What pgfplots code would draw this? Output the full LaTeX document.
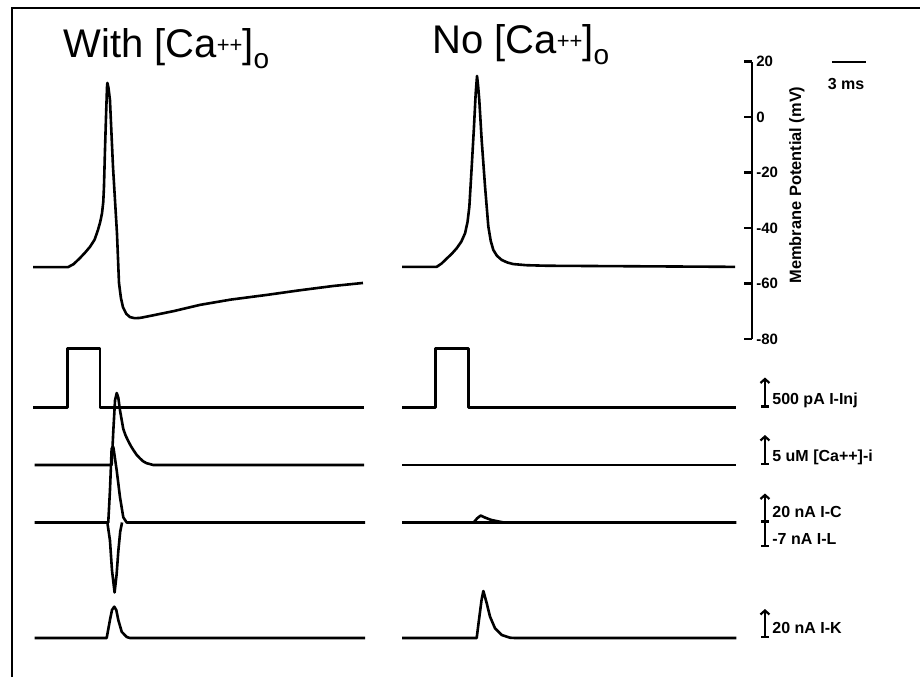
\documentclass[border=0pt]{standalone}
\usepackage{fontspec}
\setmainfont{Liberation Sans}
\usepackage{pgfplots}
\pgfplotsset{compat=1.18}
\usetikzlibrary{arrows.meta}

\newcommand{\titlefont}{\fontsize{20}{22}\selectfont}
\newcommand{\lblfont}{\fontsize{8}{9.6}\selectfont\bfseries}
\newcommand{\tickfont}{\fontsize{7.5}{9}\selectfont\bfseries}
\newcommand{\ylabfont}{\fontsize{8.2}{9.8}\selectfont\bfseries}
\newcommand{\plusplus}{\raisebox{2.5pt}{\fontsize{11}{11}\selectfont ++}}
\newcommand{\subo}{\raisebox{-5.5pt}{\fontsize{14}{14}\selectfont o}}

\tikzset{
  tr/.style={black, line width=1.3pt, line join=round, mark=none},
  sbar/.style={black, line width=1.1pt,
    arrows={Bar[width=4pt,line width=1.1pt]-Straight Barb[length=2pt,width=4.5pt,line width=1.1pt]}},
  sbarL/.style={black, line width=1.1pt, arrows={-Bar[width=4pt,line width=1.1pt]}},
  slabel/.style={anchor=base west, inner sep=0pt, font=\lblfont},
}
\pgfplotsset{
  trace/.style={hide axis, clip=false, anchor=south west,
    x=5.65pt, xmin=0, xmax=29.6, enlargelimits=false},
}

\begin{document}
\begin{tikzpicture}
\useasboundingbox (0,0) rectangle (460pt,338.5pt);
% figure frame
\draw[line width=1.2pt] (6pt,0pt) -- (6pt,334.5pt) -- (460pt,334.5pt);

% column headings
\node[anchor=base west, inner sep=0pt, font=\titlefont] at (31.5pt,310pt) {With [Ca\plusplus]\subo};
\node[anchor=base west, inner sep=0pt, font=\titlefont] at (216pt,312pt) {No [Ca\plusplus]\subo};

% ---------------- with extracellular calcium ----------------
% membrane potential (mV)
\begin{axis}[trace, at={(16.5pt,169pt)}, y=1.3875pt, ymin=-80, ymax=20]
\addplot[tr] coordinates {
 (0,-54.1) (3.10,-54.1) (3.60,-53.0) (4.16,-50.8) (4.60,-48.9) (5.04,-46.8)
 (5.45,-44.2) (5.75,-40.7) (5.95,-37.8) (6.11,-34.6) (6.22,-30.5)
 (6.28,-25.2) (6.37,-11.9) (6.46,0) (6.55,10.8) (6.58,12.3) (6.68,10.5) (6.81,6.1)
 (7.08,-18.0) (7.43,-41.8) (7.61,-59.8) (7.78,-65.2) (7.96,-68.5) (8.25,-70.9)
 (8.58,-72.1) (9.0,-72.5) (9.47,-72.4) (10.35,-71.7) (12.5,-69.9) (14.78,-67.7)
 (17.5,-65.8) (20.71,-64.1) (23.5,-62.5) (26.55,-60.9) (29.20,-59.8)};
\end{axis}
% injected current (pA)
\begin{axis}[trace, at={(16.5pt,134.75pt)}, y=0.03pt, ymin=0, ymax=1000]
\addplot[tr] coordinates {(0,0) (3.04,0) (3.04,980) (5.93,980) (5.93,0) (29.3,0)};
\end{axis}
% intracellular calcium (uM)
\begin{axis}[trace, at={(16.5pt,106pt)}, y=3pt, ymin=0, ymax=12]
\addplot[tr] coordinates {
 (0.15,0) (6.96,0) (7.11,5.8) (7.26,10.8) (7.41,12.0) (7.55,11.2) (7.70,9.1)
 (7.99,6.0) (8.20,4.9) (8.43,4.0) (8.65,3.2) (8.88,2.5) (9.17,1.7) (9.47,1.1)
 (9.76,0.6) (10.06,0.3) (10.65,0) (29.3,0)};
\end{axis}
% calcium-activated current I-C (nA)
\begin{axis}[trace, at={(16.5pt,77.25pt)}, y=0.725pt, ymin=0, ymax=52]
\addplot[tr] coordinates {
 (0.15,0) (6.66,0) (6.81,22) (6.96,51) (7.11,52) (7.41,35.8) (7.70,17.4)
 (7.99,3.6) (8.29,0) (29.4,0)};
\end{axis}
% L-type calcium current I-L (nA)
\begin{axis}[trace, at={(16.5pt,41.54pt)}, y=1.786pt, ymin=-20, ymax=0]
\addplot[tr] coordinates {
 (6.58,0) (6.81,-5.0) (6.99,-13.4) (7.22,-19.6) (7.40,-14.5) (7.55,-8.0)
 (7.72,-2.5) (7.88,0)};
\end{axis}
% potassium current I-K (nA)
\begin{axis}[trace, at={(16.5pt,19.5pt)}, y=0.725pt, ymin=0, ymax=32]
\addplot[tr] coordinates {
 (0.15,0) (6.52,0) (6.81,12.4) (6.99,19.3) (7.19,21.6) (7.37,19.3) (7.55,12.4)
 (7.85,4.3) (8.29,0.7) (8.58,0) (29.4,0)};
\end{axis}

% ---------------- without extracellular calcium ----------------
% membrane potential with its scale and the time bar
\begin{axis}[clip=false, anchor=south west, at={(201pt,169pt)},
  x=5.65pt, y=1.3875pt, xmin=0, xmax=30.97, ymin=-80, ymax=20,
  enlargelimits=false,
  axis x line=none, axis y line*=right, xtick=\empty,
  ytick={-80,-60,-40,-20,0,20}, yticklabels={-80,-60,-40,-20,0,20},
  tick align=inside, major tick length=4pt,
  axis line style={line width=1.2pt},
  every tick/.style={black, line width=1.2pt},
  yticklabel style={font=\tickfont, inner sep=2pt},
  ylabel={Membrane Potential (mV)},
  ylabel style={font=\ylabfont, at={(ticklabel cs:0.555)}}]
\addplot[tr] coordinates {
 (0,-54.0) (3.07,-54.0) (3.50,-52.8) (3.96,-51.0) (4.40,-49.3) (4.84,-47.3)
 (5.25,-44.9) (5.58,-41.9) (5.80,-37.8) (5.96,-32.3) (6.17,-17.9) (6.37,-3.5)
 (6.52,8.5) (6.64,14.8) (6.74,11.0) (6.84,6.1) (7.05,-8.3) (7.35,-25.1)
 (7.64,-39.5) (7.85,-44.6) (8.08,-47.9) (8.40,-50.0) (8.82,-51.5) (9.30,-52.4)
 (9.85,-53.0) (11.0,-53.4) (12.80,-53.6) (29.47,-54.0)};
\addplot[black, line width=1pt, mark=none] coordinates {(38.05,20) (41.06,20)};
\node[anchor=base, inner sep=0pt, font=\lblfont, yshift=-14pt] at (axis cs:39.3,20) {3 ms};
\end{axis}
% injected current (pA)
\begin{axis}[trace, at={(201pt,134.75pt)}, y=0.03pt, ymin=0, ymax=1000]
\addplot[tr] coordinates {(0,0) (2.98,0) (2.98,980) (5.90,980) (5.90,0) (29.6,0)};
\addplot[sbar] coordinates {(32.12,0) (32.12,500)};
\node[slabel, yshift=1.75pt] at (axis cs:32.74,0) {500 pA I-Inj};
\end{axis}
% intracellular calcium (uM)
\begin{axis}[trace, at={(201pt,106pt)}, y=3pt, ymin=0, ymax=12]
\addplot[tr] coordinates {(0,0) (29.56,0)};
\addplot[sbar] coordinates {(32.12,0) (32.12,5)};
\node[slabel, yshift=2pt] at (axis cs:32.74,0) {5 uM [Ca++]-i};
\end{axis}
% I-C (nA)
\begin{axis}[trace, at={(201pt,77.25pt)}, y=0.725pt, ymin=0, ymax=52]
\addplot[tr] coordinates {
 (0,0) (6.34,0) (6.64,2.8) (6.96,4.8) (7.35,3.4) (7.88,1.8) (8.58,0.65)
 (9.03,0) (29.6,0)};
\addplot[sbar] coordinates {(32.12,0) (32.12,20)};
\node[slabel, yshift=2.75pt] at (axis cs:32.74,0) {20 nA I-C};
\end{axis}
% I-L (nA)
\begin{axis}[trace, at={(201pt,41.54pt)}, y=1.786pt, ymin=-20, ymax=0]
\addplot[tr] coordinates {(0,0) (29.6,0)};
\addplot[sbarL] coordinates {(32.12,0) (32.12,-7)};
\node[slabel, yshift=-11.25pt] at (axis cs:32.74,0) {-7 nA I-L};
\end{axis}
% I-K (nA)
\begin{axis}[trace, at={(201pt,19.5pt)}, y=0.725pt, ymin=0, ymax=32]
\addplot[tr] coordinates {
 (0,0) (6.61,0) (6.81,12.4) (7.04,26.2) (7.20,32.4) (7.35,28.2) (7.50,23.9)
 (7.79,14.7) (8.23,6.7) (8.82,2.1) (9.56,0.2) (10.0,0) (29.6,0)};
\addplot[sbar] coordinates {(32.12,0) (32.12,20)};
\node[slabel, yshift=2.5pt] at (axis cs:32.74,0) {20 nA I-K};
\end{axis}
\end{tikzpicture}
\end{document}
